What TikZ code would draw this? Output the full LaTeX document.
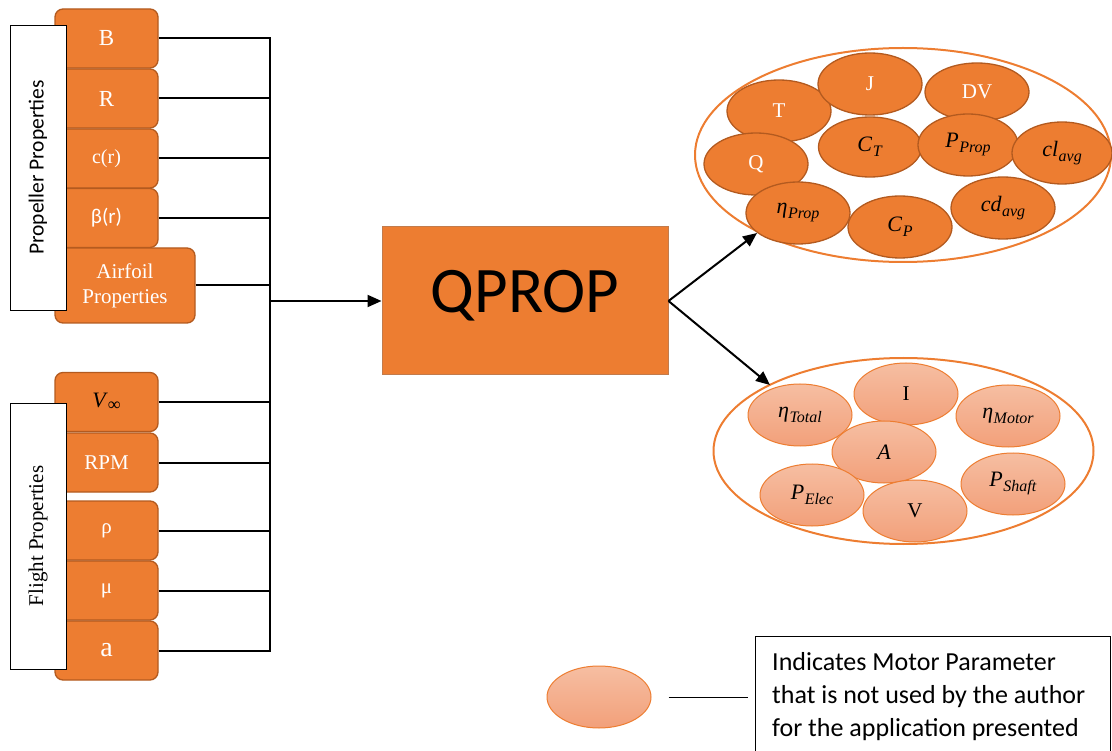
\documentclass[tikz,border=0pt]{standalone}
\usepackage{fix-cm}
\usepackage{fontspec}
\setmainfont{Liberation Serif}
\setsansfont{Carlito}
\usetikzlibrary{shapes.geometric,arrows.meta}
\definecolor{org}{HTML}{ED7D31}
\definecolor{orgd}{HTML}{B35A1F}
\definecolor{lta}{RGB}{246,190,162}
\definecolor{ltb}{RGB}{242,160,122}
\newcommand\mv[2]{\textit{#1}\kern0.5pt\raisebox{-5pt}{\fontsize{16}{16}\selectfont\textit{#2}}}
\begin{document}
\begin{tikzpicture}[x=1pt,y=-1pt,
 pbox/.style={draw=orgd, line width=1.3pt, fill=org, rounded corners=8pt, minimum width=103pt, minimum height=59pt, inner sep=0pt, text=white, font=\fontsize{23}{24}\selectfont},
 lbl/.style={draw=black, fill=white, line width=0.8pt, minimum height=56pt, inner sep=0pt, rotate=90},
 oe/.style={ellipse, draw=orgd, line width=1.3pt, fill=org, minimum width=104pt, minimum height=62pt, inner sep=0pt, font=\fontsize{22}{22}\selectfont},
 le/.style={ellipse, draw=org, line width=1pt, top color=lta, bottom color=ltb, minimum width=104pt, minimum height=62pt, inner sep=0pt, font=\fontsize{22}{22}\selectfont},
 big/.style={ellipse, draw=org, line width=2pt, inner sep=0pt},
 wire/.style={line width=2pt},
 arr/.style={line width=2pt, -{Triangle[length=14pt,width=12pt]}}
]
\useasboundingbox (0,0) rectangle (1112,751);
\clip (0,0) rectangle (1112,751);

% propeller boxes
\node[pbox] (B) at (106.5,38.5) {B};
\node[pbox] (R) at (106.5,98.5) {R};
\node[pbox, font=\fontsize{20}{20}\selectfont] (cr) at (106.5,158.5) {c(r)};
\node[pbox, font=\sffamily\fontsize{21}{20}\selectfont] (br) at (106.5,218) {β(r)};
\node[pbox, minimum width=140pt, minimum height=75pt, align=center, font=\fontsize{21}{25}\selectfont] (af) at (125,285.5) {Airfoil\\Properties};
\node[lbl, minimum width=285pt, font=\sffamily\fontsize{21.5}{22}\selectfont] (pp) at (38,167.5) {Propeller Properties};

% flight boxes
\node[pbox, text=black, font=\fontsize{22}{24}\selectfont] (V) at (106.5,402) {\textit{V}\raisebox{-3pt}{\fontsize{18}{18}\selectfont ∞}};
\node[pbox, font=\fontsize{21}{22}\selectfont] (rpm) at (106.5,462.5) {RPM};
\node[pbox, font=\fontsize{21}{20}\selectfont] (rho) at (106.5,530.5) {ρ};
\node[pbox, font=\fontsize{21}{20}\selectfont] (mu) at (106.5,590.5) {μ};
\node[pbox, font=\fontsize{28}{28}\selectfont] (a) at (106.5,650.5) {a};
\node[lbl, minimum width=266pt, font=\fontsize{21}{22}\selectfont] (fp) at (38,536) {Flight Properties};

% wiring
\coordinate (sp) at (270,0);
\foreach \n in {B,R,cr,br,af,V,rpm,rho,mu,a}{
  \draw[wire] (\n.east) -- (\n.east -| sp);
}
\draw[line width=2.5pt, line cap=rect] (B.east -| sp) -- (a.east -| sp);

% QPROP
\node[draw=orgd!80, line width=1pt, fill=org, minimum width=286pt, minimum height=148pt, inner sep=0pt, font=\sffamily\fontsize{65}{65}\selectfont] (Q) at (525,301) {\raisebox{19pt}{QPROP}};
\draw[arr] (sp |- Q.west) -- (Q.west);

% outputs
\node[big, minimum width=416pt, minimum height=214pt] (U) at (903,155) {};
\node[big, minimum width=380pt, minimum height=186pt] (D) at (903.5,451) {};
\coordinate (u) at (757,233);
\coordinate (d) at (770,385);
\draw[arr] (Q.east) -- (u);
\draw[arr] (Q.east) -- (d);

% propeller outputs
\node[oe, text=white, font=\fontsize{21}{22}\selectfont] (T) at (779,111) {T};
\node[oe, text=white, font=\fontsize{21}{22}\selectfont] (Qo) at (756,164) {Q};
\node[oe, text=white, font=\fontsize{21}{22}\selectfont] (J) at (870,84) {J};
\node[oe, text=white, font=\fontsize{21}{22}\selectfont, minimum height=58pt] (DV) at (977,92) {DV};
\node[oe, minimum width=103pt, minimum height=60pt] (CT) at (870,147) {\mv{C}{T}};
\node[oe, minimum width=100pt] (PP) at (968,145) {\mv{P}{Prop}};
\node[oe, minimum width=100pt] (cl) at (1062,153) {\mv{cl}{avg}};
\node[oe] (eta) at (798,213) {\mv{η}{Prop}};
\node[oe] (CP) at (900,227) {\mv{C}{P}};
\node[oe] (cd) at (1003,208) {\mv{cd}{avg}};

% motor outputs
\node[le] (et) at (800,415) {\mv{η}{Total}};
\node[le, font=\fontsize{21}{22}\selectfont] (I) at (906,394) {I};
\node[le] (em) at (1008,416) {\mv{η}{Motor}};
\node[le] (A) at (884,452) {\textit{A}};
\node[le] (pe) at (812,495) {\mv{P}{Elec}};
\node[le, font=\fontsize{21}{22}\selectfont] (Vo) at (915,511) {V};
\node[le] (ps) at (1013,484) {\mv{P}{Shaft}};

% legend
\node[le] (L) at (599,697) {};
\node[draw, line width=1pt, minimum width=355pt, minimum height=130pt, anchor=north west, inner sep=0pt] (lgb) at (755,636) {};
\draw[line width=1pt] ([xshift=17pt]L.east) -- ([xshift=-7pt]L.east -| lgb.west);
\node[anchor=north west, inner sep=0pt, align=left, font=\sffamily\fontsize{26}{33}\selectfont] (lt) at (772,652) {Indicates Motor Parameter\\that is not used by the author\\for the application presented};
\end{tikzpicture}
\end{document}
